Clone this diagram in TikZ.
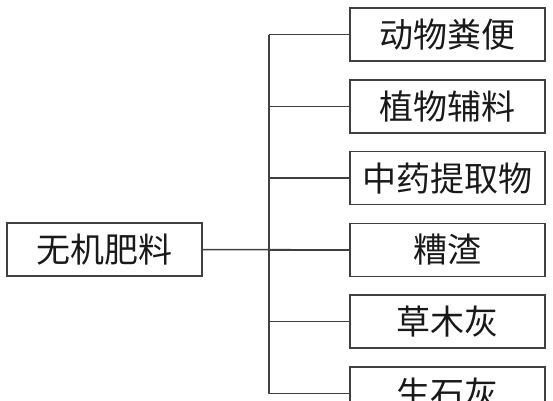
\documentclass[tikz,border=0pt]{standalone}
\usepackage{fontspec}
\newfontfamily\cjk{Noto Sans CJK SC}
\usepackage{tikz}
\usetikzlibrary{positioning}
\tikzset{
  box/.style ={draw=black!75, line width=1.5pt, minimum width=195pt, minimum height=53pt,
               inner sep=0pt, font=\cjk\fontsize{34}{34}\selectfont, text=black!90},
  link/.style={draw=black!75, line width=1.5pt}
}

\begin{document}
\begin{tikzpicture}[x=1pt,y=-1pt]
\useasboundingbox (0,0) rectangle (553,400);
\clip (0,0) rectangle (553,400);
% root on the left
\node[box] (root) at (104.5,249.5) {无机肥料};
% six parts on the right
\foreach \name [count=\i from 0] in {动物粪便,植物辅料,中药提取物,糟渣,草木灰,生石灰}
  \node[box] (part\i) at (447.5,34.5+71.8*\i) {\name};
\coordinate (spine) at (269,0);
% fork
\draw[link] (root.east) -- (part3.west);
\draw[link] (part0.west -| spine) -- (part5.west -| spine);
\foreach \i in {0,...,5}
  \draw[link] (part\i.west) -- (part\i.west -| spine);
\end{tikzpicture}
\end{document}
